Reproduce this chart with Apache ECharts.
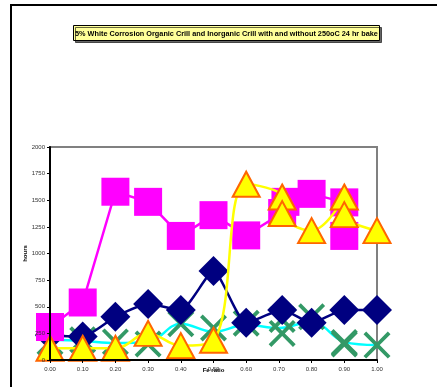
<!DOCTYPE html>
<html><head><meta charset="utf-8">
<script src="https://cdn.jsdelivr.net/npm/echarts@6/dist/echarts.min.js"></script>
<style>html,body{margin:0;padding:0;background:#fff}#c{width:437px;height:387px}</style>
</head><body><div id="c"></div>
<script>
const titleText = '5% White Corrosion Organic Crill and Inorganic Crill with and without 250oC 24 hr bake';
const xTicks = [0,0.1,0.2,0.3,0.4,0.5,0.6,0.7,0.8,0.9,1.0];
const yTicks = [0,250,500,750,1000,1250,1500,1750,2000];
// [Fe ratio, hours]
const navyDiamonds = [[0,230],[0.1,220],[0.2,405],[0.3,525],[0.4,470],[0.5,835],[0.6,350],[0.71,470],[0.8,350],[0.9,470],[1.0,470]];
const magentaSquares = [[0,310],[0.1,540],[0.2,1580],[0.3,1485],[0.4,1165],[0.5,1360],[0.6,1170],[0.71,1380],[0.72,1485],[0.8,1560],[0.9,1480],[0.9,1165]];
const yellowTriangles = [[0,110],[0.1,110],[0.2,110],[0.3,250],[0.4,135],[0.5,185],[0.6,1650],[0.71,1530],[0.71,1375],[0.8,1215],[0.9,1530],[0.9,1365],[1.0,1215]];
const cyanLine = [[0,190],[0.1,180],[0.2,160],[0.3,170],[0.4,340],[0.5,265],[0.6,330],[0.7,300],[0.8,360],[0.9,170],[1.0,140]];
const greenX = [[0,170],[0.1,190],[0.2,170],[0.3,150],[0.4,340],[0.5,300],[0.6,345],[0.71,380],[0.71,250],[0.8,405],[0.9,165],[0.9,150],[1.0,140]];

const XPATH = 'path://M0,1 L1,0 L5,4 L9,0 L10,1 L6,5 L10,9 L9,10 L5,6 L1,10 L0,9 L4,5 Z';
const chart = echarts.init(document.getElementById('c'));
chart.setOption({
  animation: false,
  backgroundColor: '#fff',
  title: {
    text: titleText, left: 73, top: 25,
    backgroundColor: '#FFFF99', borderColor: '#000', borderWidth: 1,
    padding: [5, 2, 4, 2],
    shadowColor: 'rgba(0,0,0,0.6)', shadowOffsetX: 2, shadowOffsetY: 2,
    textStyle: { fontFamily: 'Liberation Sans, Arial', fontSize: 7.3, fontWeight: 'bold', color: '#000' }
  },
  graphic: [{
    type: 'rect', shape: { x: 11, y: 5, width: 600, height: 600 },
    style: { fill: 'none', stroke: '#000', lineWidth: 2 }, z: 100
  }],
  grid: { left: 50, right: 60, top: 147, bottom: 27, show: true, borderColor: '#808080', borderWidth: 2, backgroundColor: '#fff' },
  xAxis: {
    type: 'value', min: 0, max: 1, interval: 0.1, z: 10,
    name: 'Fe ratio', nameLocation: 'middle', nameGap: 7, nameMoveOverlap: false,
    nameTextStyle: { fontFamily: 'Liberation Sans, Arial', fontSize: 6, fontWeight: 'bold', color: '#000' },
    axisLine: { lineStyle: { color: '#000', width: 2 } },
    axisTick: { length: 3, lineStyle: { color: '#000' } },
    axisLabel: { fontFamily: 'Liberation Sans, Arial', fontSize: 6, color: '#333', margin: 6,
      formatter: v => v.toFixed(2) },
    splitLine: { show: false }
  },
  yAxis: {
    type: 'value', min: yTicks[0], max: yTicks[yTicks.length-1], interval: 250, z: 10,
    name: 'hours', nameLocation: 'middle', nameGap: 22, nameRotate: 90, nameMoveOverlap: false,
    nameTextStyle: { fontFamily: 'Liberation Sans, Arial', fontSize: 6, fontWeight: 'bold', color: '#000' },
    axisLine: { show: true, lineStyle: { color: '#000', width: 2 } },
    axisTick: { show: true, length: 3, lineStyle: { color: '#000' } },
    axisLabel: { fontFamily: 'Liberation Sans, Arial', fontSize: 6, color: '#333', margin: 5,
      formatter: v => String(v) },
    splitLine: { show: false }
  },
  series: [
    { type: 'line', data: cyanLine, smooth: 0.4, showSymbol: false, symbol: 'none', clip: false, z: 1,
      lineStyle: { color: '#00FFFF', width: 2.5 } },
    { type: 'scatter', data: greenX, symbol: XPATH, symbolSize: 27, clip: false, z: 2,
      itemStyle: { color: '#339966', opacity: 1 } },
    { type: 'line', data: navyDiamonds, smooth: 0.2, symbol: 'diamond', symbolSize: [30, 30], clip: false, z: 3,
      lineStyle: { color: '#000080', width: 2.5 }, itemStyle: { color: '#000080' } },
    { type: 'line', data: magentaSquares, smooth: false, symbol: 'rect', symbolSize: 28, clip: false, z: 4,
      lineStyle: { color: '#FF00FF', width: 2.5 }, itemStyle: { color: '#FF00FF' } },
    { type: 'line', data: yellowTriangles, smooth: 0.4, symbol: 'triangle', symbolSize: [27, 25], clip: false, z: 5,
      lineStyle: { color: '#FFFF00', width: 2.5 },
      itemStyle: { color: '#FFFF00', borderColor: '#FF6600', borderWidth: 2 } }
  ]
});
</script></body></html>
